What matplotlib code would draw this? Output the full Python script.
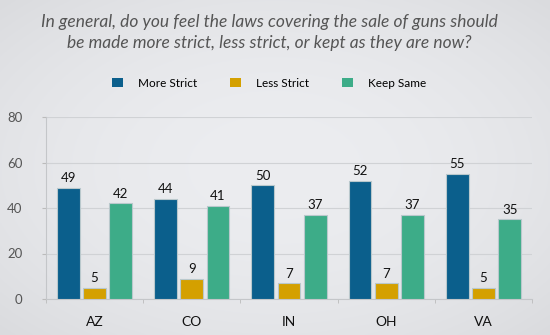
import numpy as np
import matplotlib.pyplot as plt

states = ["AZ", "CO", "IN", "OH", "VA"]
more_strict = [49, 44, 50, 52, 55]
less_strict = [5, 9, 7, 7, 5]
keep_same = [42, 41, 37, 37, 35]

series = [
    ("More Strict", more_strict, "#0b5f8c"),
    ("Less Strict", less_strict, "#d4a000"),
    ("Keep Same", keep_same, "#3dac88"),
]

plt.rcParams["font.family"] = ["Lato", "DejaVu Sans"]

fig = plt.figure(figsize=(5.5, 3.35), dpi=100)
fig.patch.set_facecolor("#e9eaed")

# light background, a touch darker toward the corners
bg = fig.add_axes([0, 0, 1, 1], zorder=-10)
yy, xx = np.mgrid[-1:1:200j, -1:1:300j]
r = np.clip(np.sqrt(xx**2 + yy**2) / np.sqrt(2), 0, 1)
center = np.array([0.925, 0.929, 0.941])
edge = np.array([0.855, 0.859, 0.871])
img = center + (edge - center) * (r**2)[..., None]
bg.imshow(img, aspect="auto", extent=[0, 1, 0, 1])
bg.axis("off")

ax = fig.add_axes([46 / 550, 1 - 299 / 335, (532 - 46) / 550, (299 - 117) / 335])
ax.patch.set_alpha(0)

x = np.arange(len(states))
w = 0.235
step = 0.27
for i, (name, vals, col) in enumerate(series):
    pos = x + (i - 1) * step
    bars = ax.bar(pos, vals, w, color=col, edgecolor="#b9c8cc", linewidth=0.8,
                  label=name, zorder=3)
    for b, v in zip(bars, vals):
        ax.text(b.get_x() + b.get_width() / 2, v + 1.5, str(v), ha="center",
                va="bottom", fontsize=9.5, color="#111111")

ax.set_xlim(-0.5, len(states) - 0.5)
ax.set_ylim(0, 80)
ax.set_yticks([0, 20, 40, 60, 80])
ax.grid(axis="y", color="#d0d2d5", linewidth=0.8, zorder=0)
ax.set_xticks(x)
ax.set_xticklabels(states, fontsize=10, color="#111111")
ax.set_xticks(np.arange(-0.5, len(states)), minor=True)
ax.tick_params(axis="x", which="major", length=0, pad=12)
ax.tick_params(axis="x", which="minor", length=3, color="#bbbbbb")
ax.tick_params(axis="y", length=3, color="#bbbbbb", labelsize=9.5,
               labelcolor="#555555", pad=14)
for s in ["top", "right"]:
    ax.spines[s].set_visible(False)
for s in ["left", "bottom"]:
    ax.spines[s].set_color("#c4c6c9")
    ax.spines[s].set_linewidth(0.8)

fig.text(0.49, 0.903, "In general, do you feel the laws covering the sale of guns should\n"
         "be made more strict, less strict, or kept as they are now?",
         ha="center", va="center", fontsize=12.5, style="italic", color="#555555",
         linespacing=1.35)

handles, labels = ax.get_legend_handles_labels()
leg = fig.legend(handles, labels, loc="center", bbox_to_anchor=(0.49, 0.752), ncol=3,
                 frameon=False, fontsize=8.5, handlelength=0.9, handleheight=0.9,
                 columnspacing=2.8, handletextpad=1.3)
for h in leg.legend_handles:
    h.set_edgecolor("none")

fig.savefig("out.png", dpi=100)
